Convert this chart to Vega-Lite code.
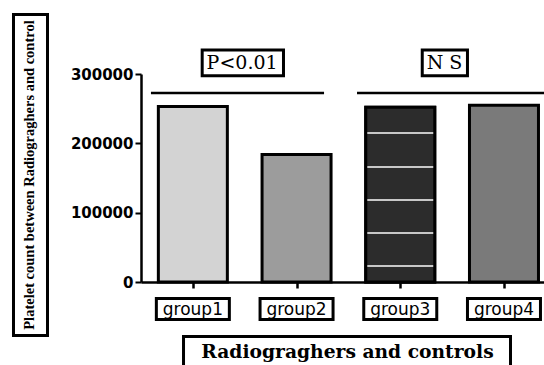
{
  "$schema": "https://vega.github.io/schema/vega-lite/v6.json",
  "width": 403,
  "height": 208,
  "autosize": {"type": "none"},
  "padding": {"left": 141, "top": 74, "right": 0, "bottom": 83},
  "background": "white",
  "config": {"view": {"stroke": null}},
  "data": {
    "values": [
      {"group": "group1", "order": 1, "count": 253000},
      {"group": "group2", "order": 2, "count": 184000},
      {"group": "group3", "order": 3, "count": 252000},
      {"group": "group4", "order": 4, "count": 255000}
    ]
  },
  "layer": [
    {
      "mark": {"type": "bar", "orient": "vertical", "width": 69, "stroke": "black", "strokeWidth": 3},
      "encoding": {
        "x": {
          "field": "order", "type": "quantitative",
          "scale": {"domain": [0.5, 4.386], "nice": false, "zero": false, "padding": 0},
          "axis": {"values": [1, 2, 3, 4], "labels": false, "title": null, "grid": false,
                   "domainColor": "black", "domainWidth": 2.5, "tickColor": "black", "tickWidth": 2.5, "tickSize": 6}
        },
        "y": {
          "field": "count", "type": "quantitative", "stack": null,
          "scale": {"domain": [0, 300000], "nice": false, "padding": 0},
          "axis": {"values": [0, 100000, 200000, 300000], "format": "d", "title": null, "grid": false,
                   "labelFont": "DejaVu Sans", "labelFontWeight": "bold", "labelFontSize": 15, "labelColor": "black",
                   "labelPadding": 2, "tickSize": 6, "tickWidth": 2, "tickColor": "black",
                   "domainColor": "black", "domainWidth": 2.5}
        },
        "fill": {
          "field": "group", "type": "nominal",
          "scale": {"domain": ["group1", "group2", "group3", "group4"], "range": ["#d3d3d3", "#9c9c9c", "#303030", "#7a7a7a"]},
          "legend": null
        }
      }
    },
    {
      "transform": [{"filter": "datum.group == 'group3'"}],
      "mark": {
        "type": "bar", "orient": "vertical", "width": 69, "stroke": "black", "strokeWidth": 3,
        "fill": {
          "gradient": "linear", "x1": 0, "y1": 0, "x2": 0, "y2": 1,
          "stops": [
            {"offset": 0, "color": "#2c2c2c"},
            {"offset": 0.141, "color": "#2c2c2c"}, {"offset": 0.141, "color": "#c8c8c8"},
            {"offset": 0.153, "color": "#c8c8c8"}, {"offset": 0.153, "color": "#2c2c2c"},
            {"offset": 0.336, "color": "#2c2c2c"}, {"offset": 0.336, "color": "#c8c8c8"},
            {"offset": 0.348, "color": "#c8c8c8"}, {"offset": 0.348, "color": "#2c2c2c"},
            {"offset": 0.525, "color": "#2c2c2c"}, {"offset": 0.525, "color": "#c8c8c8"},
            {"offset": 0.537, "color": "#c8c8c8"}, {"offset": 0.537, "color": "#2c2c2c"},
            {"offset": 0.714, "color": "#2c2c2c"}, {"offset": 0.714, "color": "#c8c8c8"},
            {"offset": 0.726, "color": "#c8c8c8"}, {"offset": 0.726, "color": "#2c2c2c"},
            {"offset": 0.902, "color": "#2c2c2c"}, {"offset": 0.902, "color": "#c8c8c8"},
            {"offset": 0.914, "color": "#c8c8c8"}, {"offset": 0.914, "color": "#2c2c2c"},
            {"offset": 1, "color": "#2c2c2c"}
          ]
        }
      },
      "encoding": {
        "x": {"field": "order", "type": "quantitative"},
        "y": {"field": "count", "type": "quantitative", "stack": null}
      }
    },
    {
      "mark": {"type": "bar", "orient": "vertical", "width": 73, "fill": "white", "stroke": "black", "strokeWidth": 3},
      "encoding": {
        "x": {"field": "order", "type": "quantitative"},
        "y": {"datum": -23800},
        "y2": {"datum": -54100}
      }
    },
    {
      "mark": {"type": "text", "font": "DejaVu Sans", "fontSize": 17, "baseline": "alphabetic", "align": "center", "color": "black"},
      "encoding": {
        "x": {"field": "order", "type": "quantitative"},
        "y": {"datum": -47600},
        "text": {"field": "group"}
      }
    },
    {
      "data": {"values": [{}]},
      "layer": [
        {
          "mark": {"type": "rect", "fill": "white", "stroke": "black", "strokeWidth": 3},
          "encoding": {
            "x": {"datum": -0.7295, "type": "quantitative"},
            "x2": {"datum": -0.4016},
            "y": {"datum": 385800, "type": "quantitative"},
            "y2": {"datum": -77200}
          }
        },
        {
          "mark": {"type": "text", "text": "Platelet count between Radiograghers and control", "angle": 270,
                   "font": "Liberation Serif", "fontWeight": "bold", "fontSize": 14.5, "baseline": "middle", "align": "center", "color": "black"},
          "encoding": {
            "x": {"datum": -0.5656, "type": "quantitative"},
            "y": {"datum": 154300, "type": "quantitative"}
          }
        },
        {
          "mark": {"type": "rect", "fill": "white", "stroke": "black", "strokeWidth": 3},
          "encoding": {
            "x": {"datum": 0.91, "type": "quantitative"},
            "x2": {"datum": 4.063},
            "y": {"datum": -78600, "type": "quantitative"},
            "y2": {"datum": -134100}
          }
        },
        {
          "mark": {"type": "text", "text": "Radiograghers and controls",
                   "font": "DejaVu Serif", "fontWeight": "bold", "fontSize": 18.7, "baseline": "alphabetic", "align": "center", "color": "black"},
          "encoding": {
            "x": {"datum": 2.491, "type": "quantitative"},
            "y": {"datum": -109600, "type": "quantitative"}
          }
        },
        {
          "mark": {"type": "rule", "stroke": "black", "strokeWidth": 2.7},
          "encoding": {
            "x": {"datum": 0.596, "type": "quantitative"},
            "x2": {"datum": 2.265},
            "y": {"datum": 272600, "type": "quantitative"}
          }
        },
        {
          "mark": {"type": "rule", "stroke": "black", "strokeWidth": 2.7},
          "encoding": {
            "x": {"datum": 2.583, "type": "quantitative"},
            "x2": {"datum": 4.386},
            "y": {"datum": 272600, "type": "quantitative"}
          }
        },
        {
          "mark": {"type": "rect", "fill": "white", "stroke": "black", "strokeWidth": 3},
          "encoding": {
            "x": {"datum": 1.09, "type": "quantitative"},
            "x2": {"datum": 1.874},
            "y": {"datum": 334500, "type": "quantitative"},
            "y2": {"datum": 297500}
          }
        },
        {
          "mark": {"type": "rect", "fill": "white", "stroke": "black", "strokeWidth": 3},
          "encoding": {
            "x": {"datum": 3.212, "type": "quantitative"},
            "x2": {"datum": 3.648},
            "y": {"datum": 334500, "type": "quantitative"},
            "y2": {"datum": 297500}
          }
        },
        {
          "mark": {"type": "text", "text": "P<0.01", "font": "DejaVu Serif", "fontSize": 19, "baseline": "alphabetic", "align": "center", "color": "black"},
          "encoding": {
            "x": {"datum": 1.475, "type": "quantitative"},
            "y": {"datum": 306800, "type": "quantitative"}
          }
        },
        {
          "mark": {"type": "text", "text": "N S", "font": "DejaVu Serif", "fontSize": 19, "baseline": "alphabetic", "align": "center", "color": "black"},
          "encoding": {
            "x": {"datum": 3.427, "type": "quantitative"},
            "y": {"datum": 306800, "type": "quantitative"}
          }
        }
      ]
    }
  ]
}
